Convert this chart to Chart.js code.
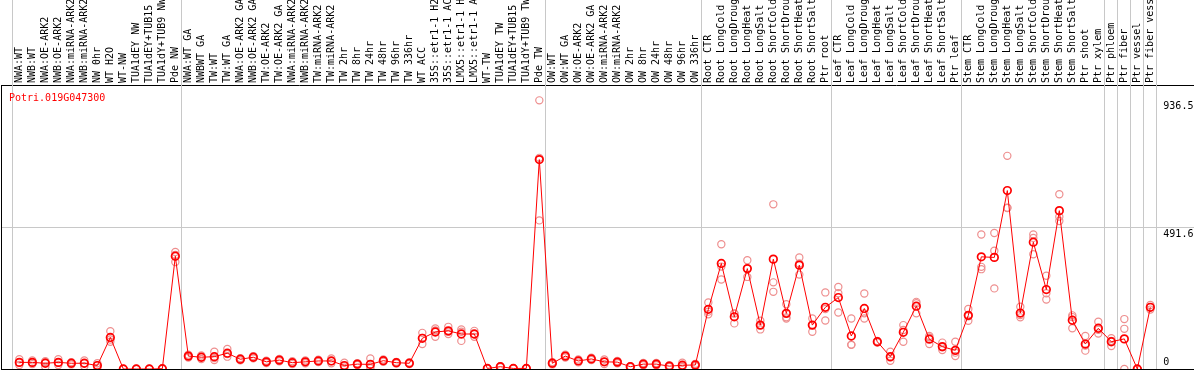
<!DOCTYPE html>
<html>
<head>
<meta charset="utf-8">
<script src="https://cdn.jsdelivr.net/npm/chart.js@4"></script>
<style>
    body { margin: 0; background: #fff; }
    canvas { display: block; }
</style>
</head>
<body>
<canvas id="chart1" width="1194" height="370"></canvas>
<script>
// expression profile, one gene, replicates + mean line

const geneName = "Potri.019G047300";

const labels = [
    "NWA:WT", "NWB:WT", "NWA:OE-ARK2", "NWB:OE-ARK2", "NWA:miRNA-ARK2", "NWB:miRNA-ARK2",
    "NW 0hr", "WT H2O", "WT-NW", "TUA1dEY NW", "TUA1dEY+TUB15 NW", "TUA1dY+TUB9 NW", "Pde NW",
    "NWA:WT GA", "NWBWT GA", "TW:WT", "TW:WT GA", "NWA:OE-ARK2 GA", "NWB:OE-ARK2 GA",
    "TW:OE-ARK2", "TW:OE-ARK2 GA", "NWA:miRNA-ARK2 GA", "NWB:miRNA-ARK2 GA", "TW:miRNA-ARK2",
    "TW:miRNA-ARK2 GA", "TW 2hr", "TW 8hr", "TW 24hr", "TW 48hr", "TW 96hr", "TW 336hr",
    "WT ACC", "35S::etr1-1 H2O", "35S::etr1-1 ACC", "LMX5::etr1-1 H2O", "LMX5::etr1-1 ACC",
    "WT-TW", "TUA1dEY TW", "TUA1dEY+TUB15 TW", "TUA1dY+TUB9 TW", "Pde TW",
    "OW:WT", "OW:WT GA", "OW:OE-ARK2", "OW:OE-ARK2 GA", "OW:miRNA-ARK2", "OW:miRNA-ARK2 GA",
    "OW 2hr", "OW 8hr", "OW 24hr", "OW 48hr", "OW 96hr", "OW 336hr",
    "Root CTR", "Root LongCold", "Root LongDrought", "Root LongHeat", "Root LongSalt",
    "Root ShortCold", "Root ShortDrought", "Root ShortHeat", "Root ShortSalt", "Ptr root",
    "Leaf CTR", "Leaf LongCold", "Leaf LongDrought", "Leaf LongHeat", "Leaf LongSalt",
    "Leaf ShortCold", "Leaf ShortDrought", "Leaf ShortHeat", "Leaf ShortSalt", "Ptr leaf",
    "Stem CTR", "Stem LongCold", "Stem LongDrought", "Stem LongHeat", "Stem LongSalt",
    "Stem ShortCold", "Stem ShortDrought", "Stem ShortHeat", "Stem ShortSalt", "Ptr shoot",
    "Ptr xylem", "Ptr phloem", "Ptr fiber", "Ptr vessel", "Ptr fiber vessel"
];

const meanValues = [
    23, 23, 20, 23, 20, 20, 12, 110, 0, 0, 0, 1, 393,
    45, 41, 43, 55, 34, 41, 25, 31, 22, 25, 28, 28, 12, 17, 16, 29, 22, 20,
    107, 129, 133, 122, 122, 2, 8, 2, 2, 730,
    20, 45, 28, 35, 25, 24, 8, 17, 17, 10, 13, 14,
    208, 368, 182, 350, 153, 383, 194, 362, 153, 215,
    249, 115, 211, 95, 43, 128, 219, 104, 78, 65,
    187, 391, 389, 622, 195, 442, 277, 552, 170, 87,
    142, 95, 105, 0, 215
];

const rep1 = [
    34, 30, 27, 34, 24, 30, 20, 132, 0, 0, 0, 2, 408,
    50, 47, 60, 70, 38, 45, 29, 35, 27, 30, 32, 37, 22, 20, 37, 33, 25, 23,
    126, 141, 147, 138, 133, 3, 10, 3, 3, 936.5,
    24, 50, 33, 39, 33, 28, 10, 21, 21, 13, 22, 18,
    232, 435, 194, 379, 168, 574, 226, 389, 176, 267,
    286, 176, 263, 98, 60, 153, 234, 110, 92, 95,
    209, 469, 474, 743, 217, 469, 325, 609, 187, 115,
    165, 107, 174, 0, 223
];

const rep2 = [
    23, 22, 24, 22, 20, 20, 12, 103, 0, 0, 0, 1, 398,
    45, 41, 38, 52, 34, 41, 25, 31, 22, 25, 28, 27, 10, 17, 8, 29, 22, 20,
    108, 134, 130, 130, 121, 2, 8, 2, 2, 736,
    20, 45, 28, 35, 25, 24, 8, 17, 17, 10, 10, 14,
    200, 357, 193, 350, 153, 302, 180, 368, 153, 209,
    264, 85, 194, 95, 40, 136, 229, 115, 76, 57,
    184, 356, 412, 562, 188, 457, 264, 531, 181, 82,
    137, 98, 140, 0, 215
];

const rep3 = [
    14, 17, 8, 14, 16, 10, 4, 95, 0, 0, 0, 0, 373,
    40, 35, 31, 43, 30, 37, 21, 27, 17, 20, 24, 20, 4, 14, 3, 25, 19, 17,
    87, 112, 122, 98, 112, 1, 6, 1, 1, 518,
    16, 40, 23, 31, 17, 20, 6, 13, 13, 7, 7, 10,
    191, 312, 159, 321, 138, 269, 176, 329, 130, 169,
    197, 84, 176, 92, 29, 95, 194, 87, 66, 45,
    168, 348, 281, 561, 180, 400, 242, 516, 142, 64,
    124, 80, 0, 0, 207
];

// last category of each block, a grey rule is drawn after it
const groupEnds = [-1, 12, 40, 52, 62, 72, 83, 84, 85, 86, 87];

const yTickValues = [0, 491.6, 936.5];

const monoFont = "'DejaVu Sans Mono', monospace";

function toPoints(values) {
    return values.map((v, i) => ({x: i, y: v}));
}

function repDataset(values) {
    return {
        data: toPoints(values),
        showLine: false,
        pointRadius: 3.6,
        pointBorderWidth: 1.2,
        pointBorderColor: "#ee8f8f",
        pointBackgroundColor: "rgba(0,0,0,0)"
    };
}

const framePlugin = {
    id: "frame",
    beforeDatasetsDraw(chart) {
        const ctx = chart.ctx;
        const xs = chart.scales.x;
        const area = chart.chartArea;
        ctx.save();
        ctx.strokeStyle = "#c8c8c8";
        ctx.lineWidth = 1;
        groupEnds.forEach(g => {
            let px = Math.round(xs.getPixelForValue(g + 0.4)) + 0.5;
            ctx.beginPath();
            ctx.moveTo(px, 0);
            ctx.lineTo(px, area.bottom);
            ctx.stroke();
        });
        ctx.restore();
    },
    afterDraw(chart) {
        const ctx = chart.ctx;
        const xs = chart.scales.x;
        const ys = chart.scales.y;
        const area = chart.chartArea;
        ctx.save();
        ctx.font = "10px " + monoFont;
        ctx.textAlign = "left";

        // gene name
        ctx.fillStyle = "#ff0000";
        ctx.textBaseline = "top";
        ctx.fillText(geneName, area.left + 8, area.top + 8);

        // value labels on the right
        ctx.fillStyle = "#000";
        let lx = xs.getPixelForValue(labels.length);
        yTickValues.forEach(v => {
            let py = ys.getPixelForValue(v);
            if (v === 0) {
                ctx.textBaseline = "alphabetic";
                ctx.fillText(String(v), lx, py - 4);
            } else {
                ctx.textBaseline = "top";
                ctx.fillText(String(v), lx, py + 1);
            }
        });
        ctx.restore();
    }
};

const canvas = document.getElementById("chart1");

new Chart(canvas, {
    type: "line",
    data: {
        datasets: [{
            data: toPoints(meanValues),
            borderColor: "#ff0000",
            borderWidth: 1,
            backgroundColor: "rgba(0,0,0,0)",
            pointRadius: 3.8,
            pointBorderWidth: 1.7,
            pointBorderColor: "#ff0000",
            pointBackgroundColor: "rgba(0,0,0,0)",
            tension: 0
        }, repDataset(rep1), repDataset(rep2), repDataset(rep3)]
    },
    options: {
        responsive: false,
        animation: false,
        devicePixelRatio: 1,
        layout: {autoPadding: false, padding: {top: 0, left: 0, right: 0, bottom: 1}},
        plugins: {
            legend: {display: false},
            tooltip: {enabled: false},
            title: {display: false}
        },
        scales: {
            x: {
                type: "linear",
                position: "top",
                min: -1.41,
                max: 90.36,
                afterBuildTicks: s => { s.ticks = labels.map((_, i) => ({value: i})); },
                afterFit: s => { s.height = 85; s.paddingLeft = 0; s.paddingRight = 0; },
                ticks: {
                    autoSkip: false,
                    minRotation: 90,
                    maxRotation: 90,
                    padding: 2,
                    labelOffset: 12,
                    color: "#000",
                    font: {family: monoFont, size: 10},
                    callback: v => labels[v]
                },
                grid: {color: "rgba(0,0,0,0)", drawTicks: false},
                border: {display: true, color: "#000", width: 1}
            },
            y: {
                type: "linear",
                position: "left",
                min: 0,
                max: 990,
                afterBuildTicks: s => { s.ticks = yTickValues.map(v => ({value: v})); },
                afterFit: s => { s.width = 1; },
                ticks: {display: false},
                grid: {
                    drawTicks: false,
                    color: c => c.tick.value === 491.6 ? "#c8c8c8" : (c.tick.value === 0 ? "#000" : "rgba(0,0,0,0)")
                },
                border: {display: true, color: "#000", width: 1}
            }
        }
    },
    plugins: [framePlugin]
});
</script>
</body>
</html>
